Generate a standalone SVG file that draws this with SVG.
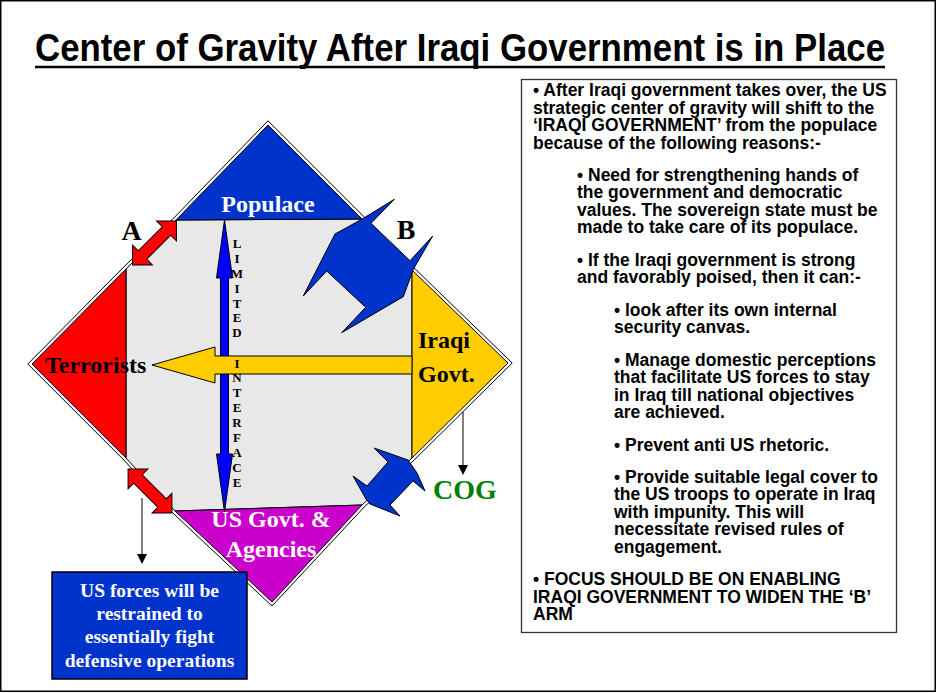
<svg xmlns="http://www.w3.org/2000/svg" width="936" height="693" viewBox="0 0 936 693">
<style>
.ser{font-family:"Liberation Serif","Times New Roman",serif;font-weight:bold}
.san{font-family:"Liberation Sans",Arial,sans-serif;font-weight:bold}
.body{font-family:"Liberation Sans",Arial,sans-serif;font-weight:bold;font-size:17.5px;fill:#000}
.lbl{font-size:24px}
.let{font-size:13px;text-anchor:middle;fill:#000}
.ln{stroke:#000;stroke-width:1}
</style>
<defs>
<polygon id="dbl" points="-31,0 -17,-14 -17,-6 17,-6 17,-14 31,0 17,14 17,6 -17,6 -17,14"/>
</defs>
<rect x="0" y="0" width="936" height="693" fill="#fff"/>
<rect x="0.75" y="0.75" width="934.5" height="690.5" fill="none" stroke="#000" stroke-width="1.5"/>

<g id="title">
<text class="san" x="35" y="61" font-size="38" textLength="850" lengthAdjust="spacingAndGlyphs">Center of Gravity After Iraqi Government is in Place</text>
<line x1="35" y1="67" x2="885" y2="67" stroke="#000" stroke-width="2.5"/>
</g>

<g id="diamond">
<polygon points="27.8,364 123.9,266.9 173.9,217.9 268,120.8 364.1,216.9 414.1,267.9 512.2,363 414.1,460.1 364.2,507 272,606 173,513.2 123.9,460.1" fill="#fff" stroke="#000" stroke-width="1"/>
<polygon points="176,220 362,219 412,270 412,458 362,505 175,511 126,458 126,269" fill="#e8e8e8" stroke="#000" stroke-width="1"/>
</g>

<g id="populace">
<polygon points="176,220 268,125 362,219" fill="#0033cc" stroke="#000" stroke-width="1"/>
<text class="ser lbl" x="268" y="212" text-anchor="middle" fill="#fff">Populace</text>
</g>
<g id="terrorists">
<polygon points="126,269 32,364 126,458" fill="#ff0000" stroke="#000" stroke-width="1"/>
</g>
<g id="iraqi-govt">
<polygon points="412,270 508,363 412,458" fill="#ffcc00" stroke="#000" stroke-width="1"/>
<text class="ser lbl" x="418" y="348" fill="#000">Iraqi</text>
<text class="ser lbl" x="418" y="382" fill="#000">Govt.</text>
</g>
<g id="us-govt">
<polygon points="175,511 272,602 362,505" fill="#cc00cc" stroke="#000" stroke-width="1"/>
</g>

<g id="connectors">
<polygon id="limited-interface" points="224.5,220 232.5,278 228.5,278 228.5,454 232.5,454 224.5,512 216.5,454 220.5,454 220.5,278 216.5,278" fill="#0000ff" stroke="#000" stroke-width="1"/>
<polygon id="yellow-arrow" points="152,365 215,347 215,356 412,356 412,374 215,374 215,383" fill="#ffcc00" stroke="#000" stroke-width="1"/>
<use href="#dbl" transform="translate(154.5,243) rotate(-45)" fill="#ff0000" stroke="#000" stroke-width="1"/>
<use href="#dbl" transform="translate(150,491) rotate(45)" fill="#ff0000" stroke="#000" stroke-width="1"/>
<polygon id="arrow-b" points="394.3,199.3 361.7,219.3 335,234 303.3,296 326.7,271 365.7,307.3 341.7,332.7 403.3,296.7 413.3,269.3 432.7,236 410,260.7 371,223.3" fill="#0033cc" stroke="#000" stroke-width="1"/>
<polygon id="arrow-cog" points="374,448 408,460 417,473 425,491 413,481 390,505 400,516 370,504 366,499 353,476 367,486 388,462" fill="#0033cc" stroke="#000" stroke-width="1"/>
<line class="ln" x1="463" y1="412" x2="463" y2="466"/>
<polygon points="458,465 468,465 463,475" fill="#000"/>
<line class="ln" x1="142" y1="498" x2="142" y2="555"/>
<polygon points="137,554 147,554 142,564" fill="#000"/>
</g>

<g id="terrorists-label">
<text class="ser lbl" x="45" y="373" fill="#000">Terrorists</text>
</g>
<g id="us-govt-label">
<text class="ser lbl" x="271" y="527" text-anchor="middle" fill="#fff">US Govt. &amp;</text>
<text class="ser lbl" x="271" y="557" text-anchor="middle" fill="#fff">Agencies</text>
</g>

<g id="interface-letters" class="ser">
<text class="let" x="237" y="248">L</text>
<text class="let" x="237" y="263">I</text>
<text class="let" x="237" y="278">M</text>
<text class="let" x="237" y="293">I</text>
<text class="let" x="237" y="307.5">T</text>
<text class="let" x="237" y="321.5">E</text>
<text class="let" x="237" y="336.5">D</text>
<text class="let" x="237" y="367.7">I</text>
<text class="let" x="237" y="382.3">N</text>
<text class="let" x="237" y="396.7">T</text>
<text class="let" x="237" y="411.7">E</text>
<text class="let" x="237" y="426.7">R</text>
<text class="let" x="237" y="441.7">F</text>
<text class="let" x="237" y="456.7">A</text>
<text class="let" x="237" y="471.7">C</text>
<text class="let" x="237" y="486.7">E</text>
</g>

<g id="label-a"><text class="ser" x="131.5" y="240" font-size="28" text-anchor="middle" fill="#000">A</text></g>
<g id="label-b"><text class="ser" x="406" y="239" font-size="28" text-anchor="middle" fill="#000">B</text></g>
<g id="cog"><text class="ser" x="433" y="499" font-size="28" fill="#008000">COG</text></g>

<g id="us-forces-box">
<rect x="52" y="572" width="195" height="107" fill="#0033cc" stroke="#000" stroke-width="1.5"/>
<g class="ser" font-size="19.5" fill="#fff" text-anchor="middle">
<text x="149.5" y="597">US forces will be</text>
<text x="149.5" y="620">restrained to</text>
<text x="149.5" y="643">essentially fight</text>
<text x="149.5" y="666.5">defensive operations</text>
</g>
</g>

<g id="text-box">
<rect x="521.5" y="79.5" width="375" height="553" fill="#fff" stroke="#333" stroke-width="1.3"/>
<g class="body" style="white-space:pre">
<text x="533" y="96">• After Iraqi government takes over, the US</text>
<text x="533" y="113.5">strategic center of gravity will shift to the</text>
<text x="533" y="131">‘IRAQI GOVERNMENT’ from the populace</text>
<text x="533" y="148.5">because of the following reasons:-</text>
<text x="577" y="180.9">• Need for strengthening  hands of</text>
<text x="577" y="198.4">the government and democratic</text>
<text x="577" y="215.9">values. The sovereign state must be</text>
<text x="577" y="233.4">made to take care of its populace.</text>
<text x="577" y="265.8">• If the Iraqi government is strong</text>
<text x="577" y="283.3">and favorably poised, then it can:-</text>
<text x="614" y="315.7">• look after its own internal</text>
<text x="614" y="333.2">security canvas.</text>
<text x="614" y="365.6">• Manage domestic perceptions</text>
<text x="614" y="383.1">that facilitate US forces to stay</text>
<text x="614" y="400.6">in Iraq till national objectives</text>
<text x="614" y="418.1">are achieved.</text>
<text x="614" y="450.5">• Prevent anti US rhetoric.</text>
<text x="614" y="482.9">• Provide suitable legal cover to</text>
<text x="614" y="500.4">the US troops to operate in Iraq</text>
<text x="614" y="517.9">with impunity. This will</text>
<text x="614" y="535.4">necessitate revised rules of</text>
<text x="614" y="552.9">engagement.</text>
<text x="533" y="585.3">• FOCUS SHOULD BE ON ENABLING</text>
<text x="533" y="602.8">IRAQI GOVERNMENT TO WIDEN THE ‘B’</text>
<text x="533" y="620.3">ARM</text>
</g>
</g>
</svg>
